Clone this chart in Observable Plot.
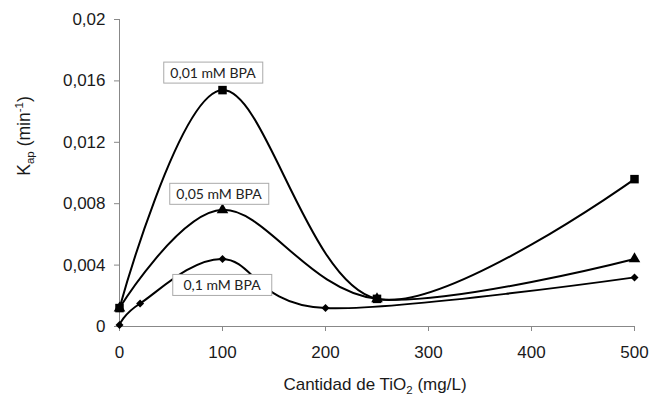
<!DOCTYPE html>
<html><head><meta charset="utf-8">
<script src="https://cdn.jsdelivr.net/npm/d3@7"></script>
<script src="https://cdn.jsdelivr.net/npm/@observablehq/plot@0.6"></script>
<style>body{margin:0;background:#fff}svg{display:block}</style>
</head><body><div id="chart"></div>
<script>
const xTicks = [0, 100, 200, 300, 400, 500];
const yTicks = [0, 0.004, 0.008, 0.012, 0.016, 0.02];
const x001 = [0, 100, 250, 500];
const y001 = [0.0012, 0.0154, 0.0018, 0.0096];
const x005 = [0, 100, 250, 500];
const y005 = [0.0012, 0.0076, 0.0018, 0.0044];
const x01 = [0, 20, 100, 200, 500];
const y01 = [0.0001, 0.0015, 0.0044, 0.0012, 0.0032];
const labels = ["0,01 mM BPA", "0,05 mM BPA", "0,1 mM BPA"];

const s001 = x001.map((x, i) => ({x, y: y001[i]}));
const s005 = x005.map((x, i) => ({x, y: y005[i]}));
const s01 = x01.map((x, i) => ({x, y: y01[i]}));
const fmt = d => d === 0 ? "0" : String(+d.toFixed(3)).replace(".", ",");
const labFont = {fontSize: 14, fill: "#222", fontFamily: "Lato, Open Sans, sans-serif", className: "boxlab"};

const plot = Plot.plot({
  width: 650, height: 397,
  marginLeft: 119, marginRight: 16, marginTop: 19, marginBottom: 71,
  style: {fontFamily: "Liberation Sans, Arial, sans-serif", fontSize: "17px", background: "#fff"},
  x: {domain: [0, 500]},
  y: {domain: [0, 0.02]},
  marks: [
    Plot.axisX({ticks: xTicks, tickSize: 5, tickPadding: 14, fontSize: 17, label: null, stroke: "#888", color: "#1a1a1a"}),
    Plot.axisY({ticks: yTicks, tickFormat: fmt, tickSize: 5, tickPadding: 9, fontSize: 17, label: null, stroke: "#888", color: "#1a1a1a"}),
    Plot.ruleX([0], {stroke: "#888"}),
    Plot.ruleY([0], {stroke: "#888"}),
    Plot.line(s001, {x: "x", y: "y", curve: "cardinal", stroke: "#000", strokeWidth: 2}),
    Plot.line(s005, {x: "x", y: "y", curve: "cardinal", stroke: "#000", strokeWidth: 2}),
    Plot.line(s01, {x: "x", y: "y", curve: "cardinal", stroke: "#000", strokeWidth: 2}),
    Plot.dot(s01, {x: "x", y: "y", symbol: "diamond2", r: 3.6, fill: "#000"}),
    Plot.dot(s005, {x: "x", y: "y", symbol: "triangle", r: 4.3, fill: "#000"}),
    Plot.dot(s001, {x: "x", y: "y", symbol: "square", r: 4.8, fill: "#000"}),
    Plot.text([s001[1]], {x: "x", y: "y", text: () => labels[0], dx: -9.5, dy: -16.5, ...labFont}),
    Plot.text([s005[1]], {x: "x", y: "y", text: () => labels[1], dx: -3.5, dy: -15, ...labFont}),
    Plot.text([s01[2]], {x: "x", y: "y", text: () => labels[2], dx: -0.5, dy: 27, ...labFont})
  ]
});
document.getElementById("chart").append(plot);
const svg = d3.select(plot);
svg.selectAll("g.boxlab text").each(function() {
  const b = this.getBBox();
  const g = this.parentNode;
  const tr = this.getAttribute("transform");
  const r = document.createElementNS("http://www.w3.org/2000/svg", "rect");
  const w = 99, h = 21;
  r.setAttribute("x", b.x + b.width / 2 - w / 2); r.setAttribute("y", b.y + b.height / 2 - h / 2);
  r.setAttribute("width", w); r.setAttribute("height", h);
  r.setAttribute("fill", "#fff"); r.setAttribute("stroke", "#aaa"); r.setAttribute("stroke-width", 1);
  if (tr) r.setAttribute("transform", tr);
  g.insertBefore(r, this);
});
// axis titles with sub/superscripts
const yl = svg.append("text").attr("transform", "translate(30,136) rotate(-90)")
  .attr("text-anchor", "middle").attr("font-size", 17.5).attr("fill", "#1a1a1a")
  .attr("font-family", "Liberation Sans, Arial, sans-serif");
yl.append("tspan").text("K");
yl.append("tspan").attr("font-size", 11.5).attr("dy", 4).text("ap");
yl.append("tspan").attr("dy", -4).text(" (min");
yl.append("tspan").attr("font-size", 11.5).attr("dy", -7).text("-1");
yl.append("tspan").attr("dy", 7).text(")");
const xl = svg.append("text").attr("x", 375).attr("y", 390)
  .attr("text-anchor", "middle").attr("font-size", 17).attr("fill", "#1a1a1a")
  .attr("font-family", "Liberation Sans, Arial, sans-serif");
xl.append("tspan").text("Cantidad de TiO");
xl.append("tspan").attr("font-size", 11.5).attr("dy", 4).text("2");
xl.append("tspan").attr("dy", -4).text(" (mg/L)");
</script></body></html>
